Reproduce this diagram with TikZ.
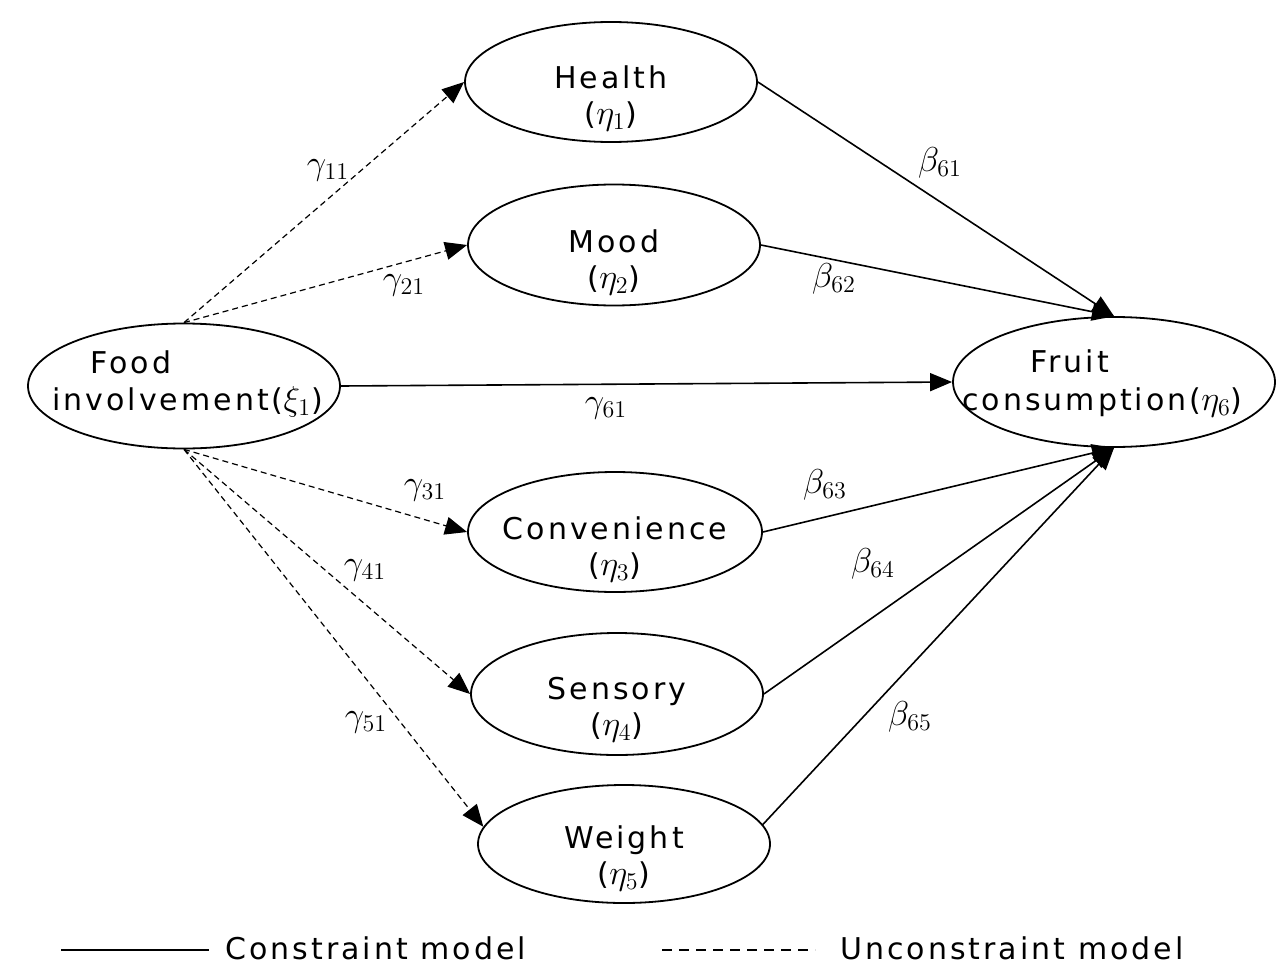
\documentclass[tikz,border=0pt]{standalone}
\usepackage{fontspec}
\setmainfont[LetterSpace=10]{DejaVu Sans}
\usetikzlibrary{shapes.geometric,arrows.meta}
\newcommand\myeta[1]{{\fontsize{18}{18}\selectfont$\eta_{#1}$}}
\newcommand\myxi[1]{{\fontsize{18}{18}\selectfont$\xi_{#1}$}}
\begin{document}
\begin{tikzpicture}[x=0.5pt,y=-0.5pt,
  el/.style={draw,ellipse,line width=0.9pt,inner sep=0pt},
  txt/.style={font=\fontsize{15}{18}\selectfont,align=center,inner sep=0pt},
  lab/.style={font=\fontsize{17}{20}\selectfont,inner sep=0pt},
  legtxt/.style={font=\fontsize{15}{18}\selectfont,inner sep=0pt,anchor=west},
  solidarrow/.style={line width=0.8pt,-{Triangle[length=11pt,width=9pt]}},
  dasharrow/.style={line width=0.6pt,dash pattern=on 3pt off 2pt,-{Triangle[length=11pt,width=9pt]}},
]
\useasboundingbox (0,0) rectangle (1284,974);
% ellipses
\node[el,minimum width=146pt,minimum height=60pt] (health) at (611,82) {};
\node[el,minimum width=146pt,minimum height=60.5pt] (mood) at (614,245) {};
\node[el,minimum width=156pt,minimum height=62.5pt] (food) at (184,386) {};
\node[el,minimum width=161pt,minimum height=65pt] (fruit) at (1114,382) {};
\node[el,minimum width=147pt,minimum height=60pt] (conv) at (615,532) {};
\node[el,minimum width=146pt,minimum height=61pt] (sens) at (617,694) {};
\node[el,minimum width=146pt,minimum height=59pt] (weight) at (624,844) {};
% texts
\node[txt] (healthT) at (611,98) {Health\\(\myeta{1})};
\node[txt] (moodT) at (614,262) {Mood\\(\myeta{2})};
\node[txt] (convT) at (615,549) {Convenience\\(\myeta{3})};
\node[txt] (sensT) at (617,710) {Sensory\\(\myeta{4})};
\node[txt] (weightT) at (624,858) {Weight\\(\myeta{5})};
\node[txt,anchor=base west] (foodA) at (90,373) {Food};
\node[txt,anchor=base west] (foodB) at (52,410) {involvement(\myxi{1})};
\node[txt,anchor=base west] (fruitA) at (1030,372) {Fruit};
\node[txt,anchor=base west] (fruitB) at (962,410) {consumption(\myeta{6})};
% connectors
\draw[dasharrow] (food.north) -- (health.west);
\draw[dasharrow] (food.north) -- (mood.west);
\draw[solidarrow] (food.east) -- (fruit.west);
\draw[dasharrow] (food.south) -- (conv.west);
\draw[dasharrow] (food.south) -- (sens.west);
\draw[dasharrow] (food.south) -- (weight.173);
\draw[solidarrow] (health.east) -- (fruit.north);
\draw[solidarrow] (mood.east) -- (fruit.north);
\draw[solidarrow] (conv.east) -- (fruit.south);
\draw[solidarrow] (sens.east) -- (fruit.south);
\draw[solidarrow] (weight.8) -- (fruit.south);
% labels
\node[lab] (g11) at (328,170) {$\gamma_{11}$};
\node[lab] (g21) at (404,285) {$\gamma_{21}$};
\node[lab] (g61) at (606,408) {$\gamma_{61}$};
\node[lab] (g31) at (425,490) {$\gamma_{31}$};
\node[lab] (g41) at (365,570) {$\gamma_{41}$};
\node[lab] (g51) at (366,722) {$\gamma_{51}$};
\node[lab] (b61) at (940,163) {$\beta_{61}$};
\node[lab] (b62) at (834,279) {$\beta_{62}$};
\node[lab] (b63) at (825,485) {$\beta_{63}$};
\node[lab] (b64) at (873,564) {$\beta_{64}$};
\node[lab] (b65) at (910,717) {$\beta_{65}$};
% legend
\coordinate (lsA) at (61,950);
\coordinate (lsB) at (209,950);
\coordinate (ldA) at (662,950);
\coordinate (ldB) at (815,950);
\draw[line width=1.2pt] (lsA) -- (lsB);
\draw[line width=0.8pt,dash pattern=on 5pt off 3.5pt] (ldA) -- (ldB);
\node[legtxt] (lsT) at (225,948) {Constraint model};
\node[legtxt] (ldT) at (840,948) {Unconstraint model};
\end{tikzpicture}
\end{document}
